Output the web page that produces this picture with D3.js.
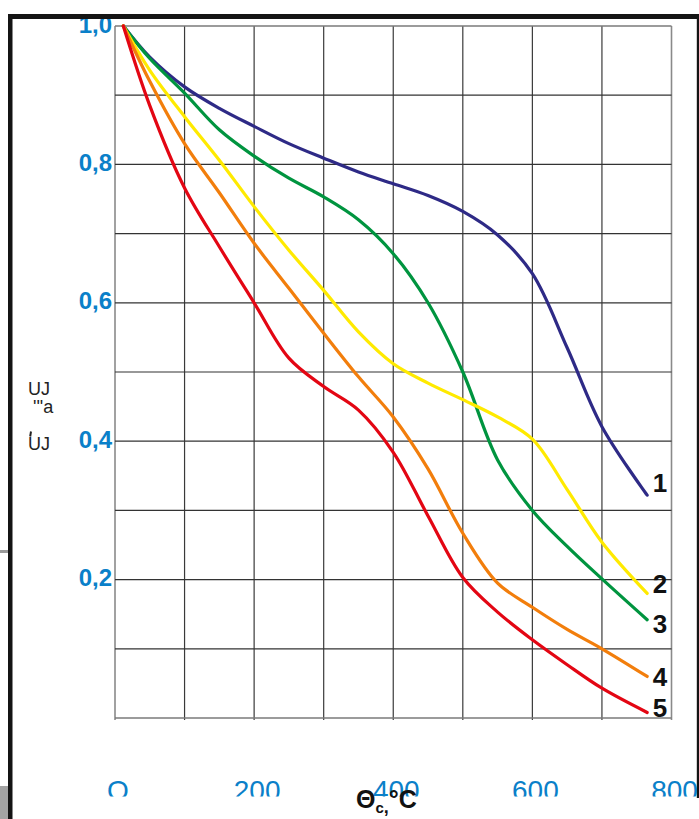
<!DOCTYPE html>
<html>
<head>
<meta charset="utf-8">
<script src="https://cdn.jsdelivr.net/npm/d3@7"></script>
<style>
html,body{margin:0;padding:0;background:#fff;}
svg{display:block;font-family:"Liberation Sans",Arial,sans-serif;}
</style>
</head>
<body>
<svg id="chart" width="699" height="819"></svg>
<script>
// ---- data ----
const temps = [12, 50, 100, 150, 200, 250, 300, 350, 400, 450, 500, 550, 600, 650, 700, 765];
const curve1 = [1.0, 0.955, 0.912, 0.881, 0.855, 0.83, 0.809, 0.789, 0.772, 0.755, 0.732, 0.698, 0.642, 0.535, 0.421, 0.322];
const curve2 = [1.0, 0.936, 0.869, 0.806, 0.739, 0.676, 0.618, 0.558, 0.512, 0.484, 0.46, 0.435, 0.403, 0.33, 0.254, 0.18];
const curve3 = [1.0, 0.953, 0.903, 0.85, 0.812, 0.78, 0.753, 0.72, 0.671, 0.6, 0.50, 0.373, 0.30, 0.248, 0.201, 0.142];
const curve4 = [1.0, 0.92, 0.83, 0.759, 0.686, 0.621, 0.556, 0.493, 0.435, 0.36, 0.267, 0.195, 0.16, 0.128, 0.10, 0.06];
const curve5 = [1.0, 0.885, 0.766, 0.681, 0.60, 0.52, 0.479, 0.445, 0.384, 0.292, 0.203, 0.153, 0.113, 0.077, 0.043, 0.008];
const seriesNames = ["1", "2", "3", "4", "5"];
const seriesColors = ["#2e2a86", "#ffea00", "#00943f", "#f27e0c", "#e30613"];
const xTicks = [0, 200, 400, 600, 800];
const xTickLabels = ["O", "200", "400", "600", "800"];
const yTicks = [0.2, 0.4, 0.6, 0.8, 1.0];
const yTickLabels = ["0,2", "0,4", "0,6", "0,8", "1,0"];
const xGrid = d3.range(0, 801, 100);
const yGrid = d3.range(0, 10.01, 1).map(d => d / 10);

const svg = d3.select("#chart");
const x = d3.scaleLinear().domain([0, 800]).range([115, 671.5]);
const y = d3.scaleLinear().domain([0, 1]).range([718, 26]);

// frame decorations
svg.append("rect").attr("x", 0).attr("y", 786).attr("width", 10).attr("height", 33).attr("fill", "#a3a3a3");
svg.append("rect").attr("x", 0).attr("y", 550).attr("width", 8).attr("height", 3).attr("fill", "#9a9a9a");

// grid
const g = svg.append("g");
g.selectAll("line.v").data(xGrid).join("line")
  .attr("x1", d => x(d)).attr("x2", d => x(d))
  .attr("y1", y(1)).attr("y2", y(0) + 2)
  .attr("stroke", (d, i) => (i === 0 || i === xGrid.length - 1) ? "#8a8a8a" : "#3a3a3a")
  .attr("stroke-width", (d, i) => (i === 0 || i === xGrid.length - 1) ? 1.6 : 1.2);
g.selectAll("line.h").data(yGrid).join("line")
  .attr("x1", x(0)).attr("x2", x(800))
  .attr("y1", d => y(d)).attr("y2", d => y(d))
  .attr("stroke", (d, i) => (i === 0 || i === yGrid.length - 1) ? "#7a7a7a" : "#333")
  .attr("stroke-width", (d, i) => (i === 0 || i === yGrid.length - 1) ? 1.6 : 1.2);

// curves
const all = [curve1, curve2, curve3, curve4, curve5];
const line = d3.line().x(d => x(d[0])).y(d => y(d[1])).curve(d3.curveCatmullRom.alpha(0.5));
[0, 2, 1, 3, 4].forEach(k => {
  svg.append("path")
    .datum(temps.map((t, i) => [t, all[k][i]]))
    .attr("d", line)
    .attr("fill", "none")
    .attr("stroke", seriesColors[k])
    .attr("stroke-width", 3.2)
    .attr("stroke-linecap", "round");
});

// curve labels
const labelY = [492, 592.5, 632.5, 686, 716.5];
seriesNames.forEach((n, k) => {
  svg.append("text").text(n)
    .attr("x", 660).attr("y", labelY[k])
    .attr("text-anchor", "middle")
    .attr("font-size", 26).attr("font-weight", "bold").attr("fill", "#111");
});

// y tick labels
svg.selectAll("text.yt").data(yTicks).join("text")
  .attr("x", 112).attr("y", d => y(d) + 6.5)
  .attr("text-anchor", "end")
  .attr("font-size", 24).attr("font-weight", "bold").attr("fill", "#0a80c9")
  .text((d, i) => yTickLabels[i]);

// x tick labels (clipped at bottom like the reference)
svg.append("clipPath").attr("id", "clipb").append("rect")
  .attr("x", 0).attr("y", 700).attr("width", 699).attr("height", 96.5);
svg.append("g").attr("clip-path", "url(#clipb)")
  .selectAll("text").data(xTicks).join("text")
  .attr("x", d => x(d) + 3).attr("y", 800)
  .attr("text-anchor", "middle")
  .attr("font-size", 28).attr("fill", "#0a80c9")
  .text((d, i) => xTickLabels[i]);

// x axis title
const xt = svg.append("text").attr("x", 356).attr("y", 808)
  .attr("font-size", 25).attr("font-weight", "bold").attr("fill", "#111");
xt.append("tspan").text("Θ");
xt.append("tspan").text("c").attr("font-size", 15).attr("dy", 5);
xt.append("tspan").text(",").attr("font-size", 18);
xt.append("tspan").text("°C").attr("dy", -5);

// y axis title (as in reference)
svg.append("text").attr("x", 28).attr("y", 395).attr("font-size", 18).attr("fill", "#222").text("UJ");
svg.append("text").attr("x", 33).attr("y", 413).attr("font-size", 18).attr("fill", "#222").text("'''a");
svg.append("text").attr("x", 28).attr("y", 450).attr("font-size", 18).attr("fill", "#222").text("UJ");
svg.append("line").attr("x1", 31).attr("y1", 431.5).attr("x2", 30.2).attr("y2", 436.5)
  .attr("stroke", "#222").attr("stroke-width", 2);

// black borders
svg.append("rect").attr("x", 8).attr("y", 14).attr("width", 691).attr("height", 5).attr("fill", "#141414");
svg.append("rect").attr("x", 8).attr("y", 14).attr("width", 4.5).attr("height", 805).attr("fill", "#141414");
svg.append("rect").attr("x", 696.8).attr("y", 14).attr("width", 2.4).attr("height", 784).attr("fill", "#141414");
</script>
</body>
</html>
